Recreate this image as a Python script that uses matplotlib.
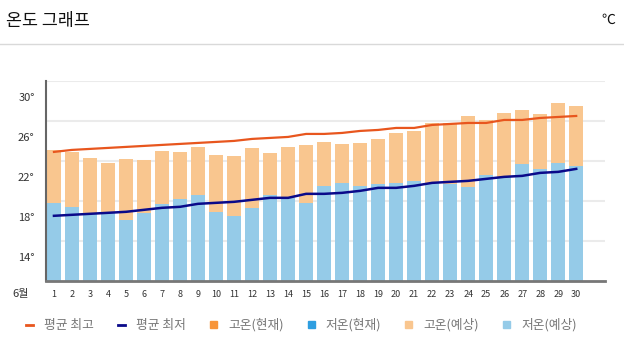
import matplotlib
matplotlib.use('Agg')
import matplotlib.pyplot as plt
import matplotlib.transforms as mtransforms
from matplotlib.lines import Line2D
from matplotlib.patches import Patch
import numpy as np

plt.rcParams['font.family'] = ['Noto Sans CJK KR', 'DejaVu Sans']

days = list(range(1, 31))
day_labels = [str(d) for d in days]

# expected high / low per day (bars)
high_exp = [25.1, 24.9, 24.3, 23.8, 24.2, 24.1, 25.0, 24.9, 25.4, 24.6,
            24.5, 25.3, 24.8, 25.4, 25.6, 25.9, 25.7, 25.8, 26.2, 26.8,
            27.0, 27.8, 27.8, 28.5, 28.1, 28.8, 29.1, 28.7, 29.8, 29.5]
low_exp = [19.8, 19.4, 18.8, 18.8, 18.1, 18.8, 19.7, 20.2, 20.6, 18.9,
           18.5, 19.3, 20.6, 20.3, 19.8, 21.5, 21.8, 21.5, 21.7, 21.8,
           22.0, 21.8, 21.7, 21.4, 22.6, 22.4, 23.7, 23.2, 23.8, 23.5]

# climatological averages (lines)
avg_high = [24.9, 25.1, 25.2, 25.3, 25.4, 25.5, 25.6, 25.7, 25.8, 25.9,
            26.0, 26.2, 26.3, 26.4, 26.7, 26.7, 26.8, 27.0, 27.1, 27.3,
            27.3, 27.6, 27.7, 27.8, 27.8, 28.1, 28.1, 28.3, 28.4, 28.5]
avg_low = [18.5, 18.6, 18.7, 18.8, 18.9, 19.1, 19.3, 19.4, 19.7, 19.8,
           19.9, 20.1, 20.3, 20.3, 20.7, 20.7, 20.8, 21.0, 21.3, 21.3,
           21.5, 21.8, 21.9, 22.0, 22.2, 22.4, 22.5, 22.8, 22.9, 23.2]

ytick_vals = [14, 18, 22, 26, 30]
ytick_labels = ['14°', '18°', '22°', '26°', '30°']
grid_vals = [16, 20, 24, 28, 32]

c_high_exp = '#f9c68f'
c_low_exp = '#95cbe8'
c_high_now = '#f7953a'
c_low_now = '#2e9ee0'
c_avg_high = '#e8561e'
c_avg_low = '#0a0a8a'

fig = plt.figure(figsize=(6.24, 3.53), dpi=100)
ax = fig.add_axes([0.0732, 0.2048, 0.8964, 0.5657])

x = np.array(days)
for g in grid_vals:
    ax.axhline(g, color='#ebebeb', lw=1.5, zorder=0)

ax.bar(x, low_exp, width=0.78, color=c_low_exp, zorder=2)
ax.bar(x, np.array(high_exp) - np.array(low_exp), bottom=low_exp,
       width=0.78, color=c_high_exp, zorder=2)
ax.plot(x, avg_high, color=c_avg_high, lw=1.6, zorder=3)
ax.plot(x, avg_low, color=c_avg_low, lw=1.8, zorder=3)

ax.set_xlim(0.54, 31.6)
ax.set_ylim(12, 32)
ax.set_xticks(x)
ax.set_xticklabels(day_labels, fontsize=6.5, color='#333333')
ax.set_yticks(ytick_vals)
ax.set_yticklabels(ytick_labels, fontsize=8, color='#333333')
ax.tick_params(axis='both', length=0)
ax.tick_params(axis='x', pad=7)
ax.tick_params(axis='y', pad=8)
offset = mtransforms.ScaledTranslation(0, 4 / 100, fig.dpi_scale_trans)
for lab in ax.get_yticklabels():
    lab.set_transform(lab.get_transform() + offset)

for s in ['top', 'right']:
    ax.spines[s].set_visible(False)
ax.spines['left'].set_color('#666666')
ax.spines['left'].set_linewidth(1.5)
ax.spines['bottom'].set_color('#777777')
ax.spines['bottom'].set_linewidth(2)

fig.text(21 / 624, 1 - 294 / 353, '6월', fontsize=8, color='#333333',
         ha='center', va='center')

# header
fig.text(6 / 624, 1 - 21 / 353, '온도 그래프', fontsize=12.5, color='#111111',
         ha='left', va='center')
fig.text(608 / 624, 1 - 20 / 353, '℃', fontsize=10, color='#111111',
         ha='center', va='center')
fig.add_artist(Line2D([0, 1], [1 - 44 / 353, 1 - 44 / 353],
                      color='#d9d9d9', lw=1, transform=fig.transFigure))

handles = [
    Line2D([], [], color=c_avg_high, lw=2),
    Line2D([], [], color=c_avg_low, lw=2),
    Patch(color=c_high_now),
    Patch(color=c_low_now),
    Patch(color=c_high_exp),
    Patch(color=c_low_exp),
]
labels = ['평균 최고', '평균 최저', '고온(현재)', '저온(현재)', '고온(예상)', '저온(예상)']
leg = fig.legend(handles, labels, loc='center left', ncol=6,
                 bbox_to_anchor=(26 / 624, 1 - 325 / 353), frameon=False,
                 fontsize=9.2, handlelength=0.55, handleheight=0.5,
                 handletextpad=0.85, columnspacing=1.9, borderpad=0,
                 borderaxespad=0)
for t in leg.get_texts():
    t.set_color('#777777')

fig.savefig('out.png', dpi=100)
